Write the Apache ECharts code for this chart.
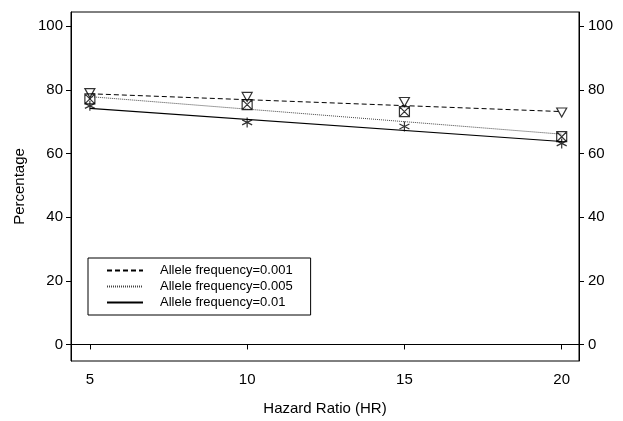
<!DOCTYPE html>
<html>
<head>
<meta charset="utf-8">
<script src="https://cdn.jsdelivr.net/npm/echarts@6/dist/echarts.min.js"></script>
<style>
  html, body { margin: 0; padding: 0; background: #fff; }
  #main { width: 623px; height: 421px; }
</style>
</head>
<body>
<div id="main"></div>
<script>
var hr = [5, 10, 15, 20];
var yTicks = [0, 20, 40, 60, 80, 100];
var names = ['Allele frequency=0.001', 'Allele frequency=0.005', 'Allele frequency=0.01'];

// observed points
var obs001 = [79.0, 77.8, 76.2, 72.9];
var obs005 = [77.2, 75.4, 73.2, 65.3];
var obs01 = [75.0, 69.8, 68.5, 63.2];

// fitted lines, read at HR=5 and HR=20
var fitX = [5, 20];
var fit001 = [78.8, 73.2];
var fit005 = [77.9, 66.1];
var fit01 = [74.2, 63.8];

function pairs(xs, ys) {
  return xs.map(function(x, i) { return [x, ys[i]]; });
}

var triDown = 'path://M0,0L10,0L5,9Z';
var boxX = 'path://M0,0L10,0L10,10L0,10Z M0,0L10,10 M10,0L0,10';
var star = 'path://M5,0L5,10 M0.5,2.5L9.5,7.5 M9.5,2.5L0.5,7.5';

var chart = echarts.init(document.getElementById('main'));
var axisFont = { fontFamily: 'Liberation Sans', fontSize: 15, color: '#000' };

chart.setOption({
  animation: false,
  grid: { left: 71, right: 44, top: 12, bottom: 49, show: true, borderColor: '#000', borderWidth: 1 },
  legend: {
    data: names,
    orient: 'vertical',
    left: 88,
    top: 258,
    borderColor: '#000',
    borderWidth: 1,
    borderRadius: 0,
    padding: [6, 18, 6, 18],
    itemWidth: 36,
    itemHeight: 14,
    itemGap: 3,
    itemStyle: { opacity: 0 },
    textStyle: { fontFamily: 'Liberation Sans', fontSize: 13, color: '#000', padding: [0, 0, 0, 12] }
  },
  xAxis: {
    type: 'value',
    min: 4.4,
    max: 20.55,
    name: 'Hazard Ratio (HR)',
    nameLocation: 'middle',
    nameGap: 40,
    nameTextStyle: axisFont,
    axisLine: { lineStyle: { color: '#000' } },
    axisTick: { show: true, length: 5, customValues: hr, lineStyle: { color: '#000' } },
    axisLabel: Object.assign({ customValues: hr, margin: 11 }, axisFont),
    splitLine: { show: false }
  },
  yAxis: [{
    type: 'value',
    min: -5.2,
    max: 104.5,
    position: 'left',
    name: 'Percentage',
    nameLocation: 'middle',
    nameGap: 42,
    nameTextStyle: axisFont,
    axisLine: { show: true, lineStyle: { color: '#000' } },
    axisTick: { show: true, length: 5, customValues: yTicks, lineStyle: { color: '#000' } },
    axisLabel: Object.assign({ customValues: yTicks, margin: 8 }, axisFont),
    splitLine: { show: false }
  }, {
    type: 'value',
    min: -5.2,
    max: 104.5,
    position: 'right',
    axisLine: { show: true, lineStyle: { color: '#000' } },
    axisTick: { show: true, length: 5, customValues: yTicks, lineStyle: { color: '#000' } },
    axisLabel: Object.assign({ customValues: yTicks, margin: 9 }, axisFont),
    splitLine: { show: false }
  }],
  series: [
    { name: names[0], type: 'line', data: pairs(fitX, fit001), symbol: 'none',
      lineStyle: { color: '#000', width: 1, type: [5, 3] }, itemStyle: { color: '#000' } },
    { name: names[1], type: 'line', data: pairs(fitX, fit005), symbol: 'none',
      lineStyle: { color: '#444', width: 1, type: [1, 1] }, itemStyle: { color: '#444' } },
    { name: names[2], type: 'line', data: pairs(fitX, fit01), symbol: 'none',
      lineStyle: { color: '#000', width: 1.2 }, itemStyle: { color: '#000' } },
    { name: 'p001', type: 'scatter', data: pairs(hr, obs001), symbol: triDown, symbolSize: [10, 9],
      itemStyle: { color: '#fff', borderColor: '#000', borderWidth: 1.2 }, z: 5 },
    { name: 'p005', type: 'scatter', data: pairs(hr, obs005), symbol: boxX, symbolSize: 10,
      itemStyle: { color: 'none', borderColor: '#000', borderWidth: 1.2 }, z: 5 },
    { name: 'p01', type: 'scatter', data: pairs(hr, obs01), symbol: star, symbolSize: 10,
      itemStyle: { color: 'none', borderColor: '#000', borderWidth: 1.2 }, z: 5 }
  ]
});
</script>
</body>
</html>
